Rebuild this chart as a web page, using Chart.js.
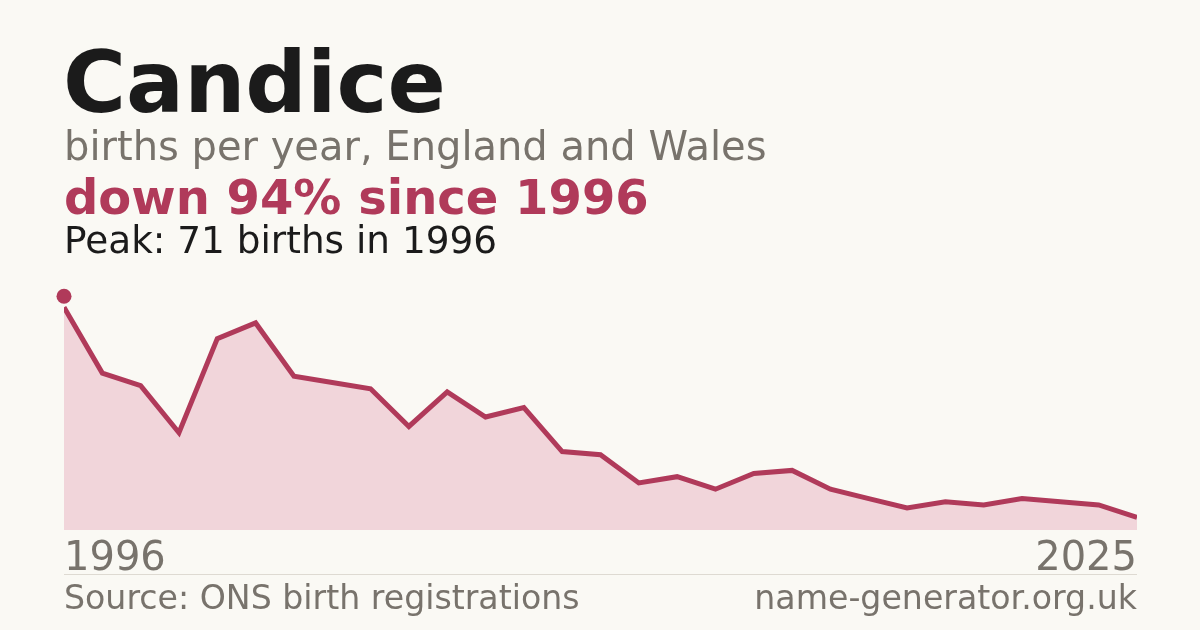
<!DOCTYPE html>
<html lang="en">
<head>
  <meta charset="UTF-8" />
  <title>Candice - births per year</title>
  <style>
    body {
      margin: 0;
      background: #faf9f4;
      font-family: "DejaVu Sans", Verdana, sans-serif;
    }
    #card {
      position: relative;
      width: 1200px;
      height: 630px;
      overflow: hidden;
      background: #faf9f4;
    }
    #chart {
      position: absolute;
      left: 0;
      top: 0;
    }
    /* line-height 0 puts the baseline at top + 0.346em for DejaVu */
    .txt {
      position: absolute;
      line-height: 0;
      white-space: nowrap;
    }
    #name { left: 63px; top: 82px; font-size: 86px; font-weight: bold; color: #1b1b1b; }
    #sub { left: 64px; top: 146px; font-size: 40px; color: #78736c; }
    #change { left: 64px; top: 197px; font-size: 48px; font-weight: bold; color: #b03a5a; }
    #peak { left: 64px; top: 239.5px; font-size: 37.4px; color: #1b1b1b; }
    .tick { top: 556px; font-size: 40px; color: #78736c; }
    #tickFirst { left: 64px; }
    #tickLast { right: 63px; }
    #rule {
      position: absolute;
      left: 64px;
      top: 574px;
      width: 1073px;
      height: 1px;
      background: #dedad2;
    }
    .foot { top: 598px; font-size: 33.2px; color: #78736c; }
    #source { left: 64px; }
    #site { right: 63px; }
  </style>
  <script src="https://cdn.jsdelivr.net/npm/chart.js"></script>
</head>
<body>
  <div id="card">
    <canvas id="chart" width="1200" height="630"></canvas>
    <div class="txt" id="name">Candice</div>
    <div class="txt" id="sub">births per year, England and Wales</div>
    <div class="txt" id="change">down 94% since 1996</div>
    <div class="txt" id="peak">Peak: 71 births in 1996</div>
    <div class="txt tick" id="tickFirst"></div>
    <div class="txt tick" id="tickLast"></div>
    <div id="rule"></div>
    <div class="txt foot" id="source">Source: ONS birth registrations</div>
    <div class="txt foot" id="site">name-generator.org.uk</div>
  </div>

  <script>
    // data
    const years = [
      '1996', '1997', '1998', '1999', '2000', '2001', '2002', '2003', '2004', '2005',
      '2006', '2007', '2008', '2009', '2010', '2011', '2012', '2013', '2014', '2015',
      '2016', '2017', '2018', '2019', '2020', '2021', '2022', '2023', '2024'
    ];
    const births = [
      71, 50, 46, 31, 61, 66, 49, 47, 45, 33,
      44, 36, 39, 25, 24, 15, 17, 13, 18, 19,
      13, 10, 7, 9, 8, 10, 9, 8, 4
    ];
    const tickLabels = ['1996', '2025'];

    document.getElementById('tickFirst').textContent = tickLabels[0];
    document.getElementById('tickLast').textContent = tickLabels[tickLabels.length - 1];

    const lineColor = '#b03a5a';

    // dot above the highest year
    const peakDot = {
      id: 'peakDot',
      afterDatasetsDraw(chart) {
        const meta = chart.getDatasetMeta(0);
        const i = births.indexOf(Math.max(...births));
        const pt = meta.data[i];
        const ctx = chart.ctx;
        ctx.save();
        ctx.beginPath();
        ctx.arc(pt.x, pt.y - 11, 7.5, 0, Math.PI * 2);
        ctx.fillStyle = lineColor;
        ctx.fill();
        ctx.restore();
      }
    };

    const ctx = document.getElementById('chart').getContext('2d');
    new Chart(ctx, {
      type: 'line',
      data: {
        labels: years,
        datasets: [{
          data: births,
          borderColor: lineColor,
          borderWidth: 5,
          backgroundColor: '#f1d5da',
          fill: 'origin',
          pointRadius: 0,
          tension: 0,
          clip: 0
        }]
      },
      options: {
        responsive: false,
        animation: false,
        devicePixelRatio: 1,
        layout: { padding: { left: 64, right: 63, top: 279, bottom: 100 } },
        plugins: {
          legend: { display: false },
          tooltip: { enabled: false }
        },
        scales: {
          x: { display: false, offset: false },
          y: { display: false, min: 0, max: 80 }
        }
      },
      plugins: [peakDot]
    });
  </script>
</body>
</html>
